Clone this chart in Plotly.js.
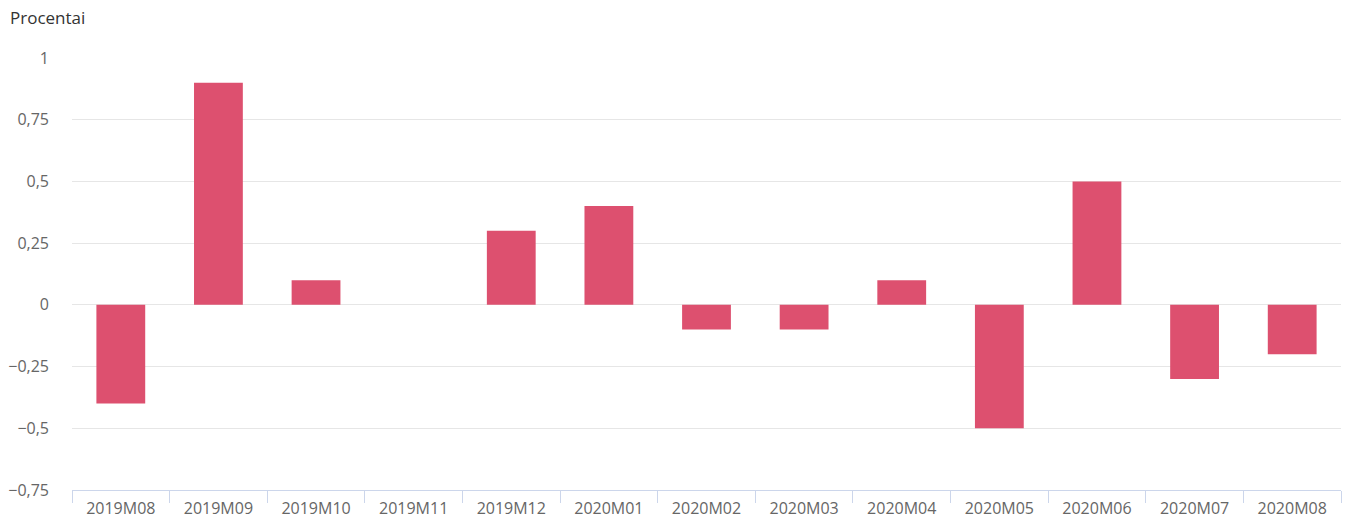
<!DOCTYPE html>
<html>
<head>
<meta charset="utf-8">
<script src="https://cdn.plot.ly/plotly-3.0.1.min.js"></script>
<style>
html,body{margin:0;padding:0;background:#fff;}
#chart{width:1346px;height:520px;}
</style>
</head>
<body>
<div id="chart"></div>
<script>
const categories = ["2019M08","2019M09","2019M10","2019M11","2019M12","2020M01","2020M02","2020M03","2020M04","2020M05","2020M06","2020M07","2020M08"];
const values = [-0.4, 0.9, 0.1, 0, 0.3, 0.4, -0.1, -0.1, 0.1, -0.5, 0.5, -0.3, -0.2];
const yTicks = [-0.75, -0.5, -0.25, 0, 0.25, 0.5, 0.75, 1];
const yTickLabels = ["−0,75", "−0,5", "−0,25", "0", "0,25", "0,5", "0,75", "1"];
const yTitle = "Procentai";

const trace = {
  type: "bar",
  x: categories,
  y: values,
  marker: {color: "#dd506f", line: {width: 0}},
  hoverinfo: "x+y"
};

const layout = {
  width: 1346,
  height: 520,
  margin: {l: 72, r: 5, t: 58, b: 30},
  paper_bgcolor: "#ffffff",
  plot_bgcolor: "#ffffff",
  separators: ", ",
  bargap: 0.5,
  showlegend: false,
  font: {family: "Open Sans, sans-serif", color: "#666666", size: 16},
  xaxis: {
    type: "category",
    showgrid: false,
    zeroline: false,
    showline: true,
    linecolor: "#ccd6eb",
    linewidth: 1,
    ticks: "outside",
    tickson: "boundaries",
    ticklen: 12,
    tickcolor: "#ccd6eb",
    tickwidth: 1,
    ticklabelstandoff: 4,
    tickfont: {family: "Open Sans, sans-serif", size: 16, color: "#666666"},
    automargin: false,
    fixedrange: true
  },
  yaxis: {
    range: [-0.75, 1],
    tickvals: yTicks,
    ticktext: yTickLabels,
    showgrid: true,
    gridcolor: "#e6e6e6",
    gridwidth: 1,
    zeroline: false,
    showline: false,
    ticks: "",
    ticklabelstandoff: 22,
    tickfont: {family: "Open Sans, sans-serif", size: 16, color: "#666666"},
    automargin: false,
    fixedrange: true
  },
  annotations: [{
    text: yTitle,
    xref: "paper", yref: "paper",
    x: -72/1269, y: 1,
    xanchor: "left", yanchor: "bottom",
    yshift: 27,
    xshift: 8,
    showarrow: false,
    font: {family: "Open Sans, sans-serif", size: 17, color: "#333333"}
  }]
};

Plotly.newPlot("chart", [trace], layout, {displayModeBar: false, staticPlot: true});
</script>
</body>
</html>
